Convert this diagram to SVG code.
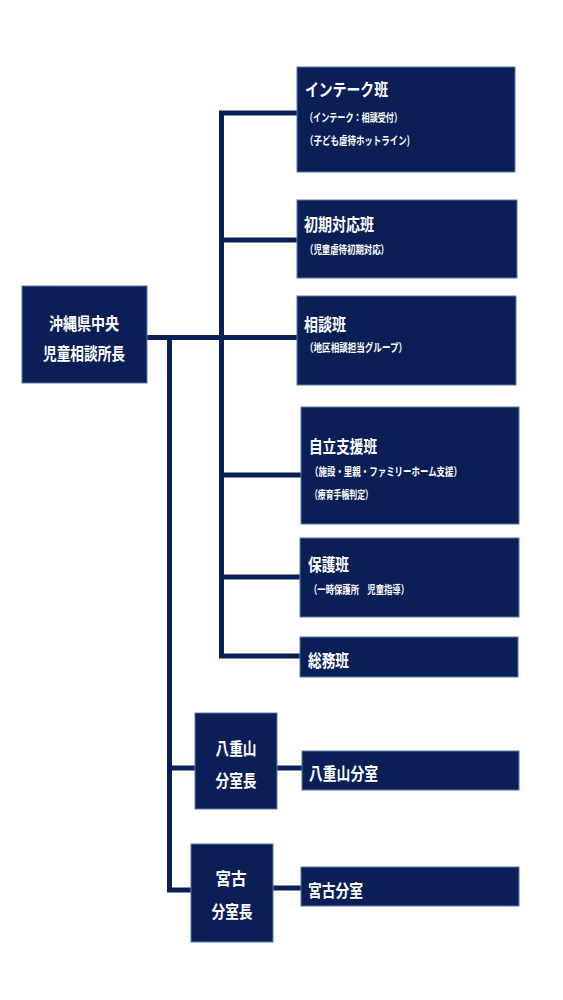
<svg xmlns="http://www.w3.org/2000/svg" width="563" height="1000" viewBox="0 0 563 1000">
<style>
.box{fill:#0b1f57;stroke:#5a79a8;stroke-width:1}
.t{fill:#ffffff;font-family:"Noto Sans CJK JP","Noto Sans CJK SC",sans-serif;font-weight:700;font-size:17.5px;dominant-baseline:central}
.s{fill:#ffffff;font-family:"Noto Sans CJK JP","Noto Sans CJK SC",sans-serif;font-weight:700;font-size:11.5px;dominant-baseline:central}
.c{text-anchor:middle}
.ln{fill:none;stroke:#0b1f57;stroke-width:5;stroke-linejoin:miter;stroke-linecap:butt}
</style>
<rect width="563" height="1000" fill="#ffffff"/>
<g id="connectors">
<path class="ln" d="M147,337.5 H297"/>
<path class="ln" d="M297,113 H221.5 V656 H300"/>
<path class="ln" d="M221.5,240 H297"/>
<path class="ln" d="M221.5,475 H301"/>
<path class="ln" d="M221.5,577 H300"/>
<path class="ln" d="M169.5,337 V890 H191"/>
<path class="ln" d="M169.5,768 H195"/>
<path class="ln" d="M277,768 H302"/>
<path class="ln" d="M273,888 H301"/>
</g>
<g id="head">
<rect class="box" x="22" y="286" width="125" height="97"/>
<text class="t c" x="84" y="322" textLength="70" lengthAdjust="spacingAndGlyphs">沖縄県中央</text>
<text class="t c" x="84" y="352" textLength="82" lengthAdjust="spacingAndGlyphs">児童相談所長</text>
</g>
<g id="intake">
<rect class="box" x="297" y="67" width="218" height="105"/>
<text class="t" x="305" y="88" textLength="83" lengthAdjust="spacingAndGlyphs">インテーク班</text>
<text class="s" x="305" y="117" textLength="97" lengthAdjust="spacingAndGlyphs">（インテーク：相談受付）</text>
<text class="s" x="305" y="140" textLength="105" lengthAdjust="spacingAndGlyphs">（子ども虐待ホットライン)</text>
</g>
<g id="shoki">
<rect class="box" x="297" y="200" width="220" height="78"/>
<text class="t" x="304" y="223" textLength="70" lengthAdjust="spacingAndGlyphs">初期対応班</text>
<text class="s" x="305" y="249" textLength="84" lengthAdjust="spacingAndGlyphs">（児童虐待初期対応）</text>
</g>
<g id="soudan">
<rect class="box" x="297" y="296" width="219" height="89"/>
<text class="t" x="304" y="323" textLength="42" lengthAdjust="spacingAndGlyphs">相談班</text>
<text class="s" x="305" y="347" textLength="102" lengthAdjust="spacingAndGlyphs">（地区相談担当グループ）</text>
</g>
<g id="jiritsu">
<rect class="box" x="301" y="407" width="218" height="117"/>
<text class="t" x="309" y="445" textLength="68" lengthAdjust="spacingAndGlyphs">自立支援班</text>
<text class="s" x="310" y="471" textLength="152" lengthAdjust="spacingAndGlyphs">（施設・里親・ファミリーホーム支援）</text>
<text class="s" x="310" y="494" textLength="63" lengthAdjust="spacingAndGlyphs">（療育手帳判定）</text>
</g>
<g id="hogo">
<rect class="box" x="300" y="538" width="219" height="79"/>
<text class="t" x="308" y="563" textLength="41" lengthAdjust="spacingAndGlyphs">保護班</text>
<text class="s" x="309" y="589" textLength="100" lengthAdjust="spacingAndGlyphs">（一時保護所　児童指導）</text>
</g>
<g id="soumu">
<rect class="box" x="300" y="637" width="218" height="40"/>
<text class="t" x="308" y="659" textLength="41" lengthAdjust="spacingAndGlyphs">総務班</text>
</g>
<g id="yaeyama-chief">
<rect class="box" x="195" y="713" width="82" height="96"/>
<text class="t c" x="236" y="747" textLength="41" lengthAdjust="spacingAndGlyphs">八重山</text>
<text class="t c" x="236" y="779" textLength="41" lengthAdjust="spacingAndGlyphs">分室長</text>
</g>
<g id="yaeyama">
<rect class="box" x="302" y="751" width="217" height="39"/>
<text class="t" x="309" y="772" textLength="69" lengthAdjust="spacingAndGlyphs">八重山分室</text>
</g>
<g id="miyako-chief">
<rect class="box" x="191" y="844" width="82" height="98"/>
<text class="t c" x="231" y="877" textLength="31" lengthAdjust="spacingAndGlyphs">宮古</text>
<text class="t c" x="232" y="910" textLength="41" lengthAdjust="spacingAndGlyphs">分室長</text>
</g>
<g id="miyako">
<rect class="box" x="301" y="867" width="218" height="39"/>
<text class="t" x="308" y="889" textLength="55" lengthAdjust="spacingAndGlyphs">宮古分室</text>
</g>
</svg>
